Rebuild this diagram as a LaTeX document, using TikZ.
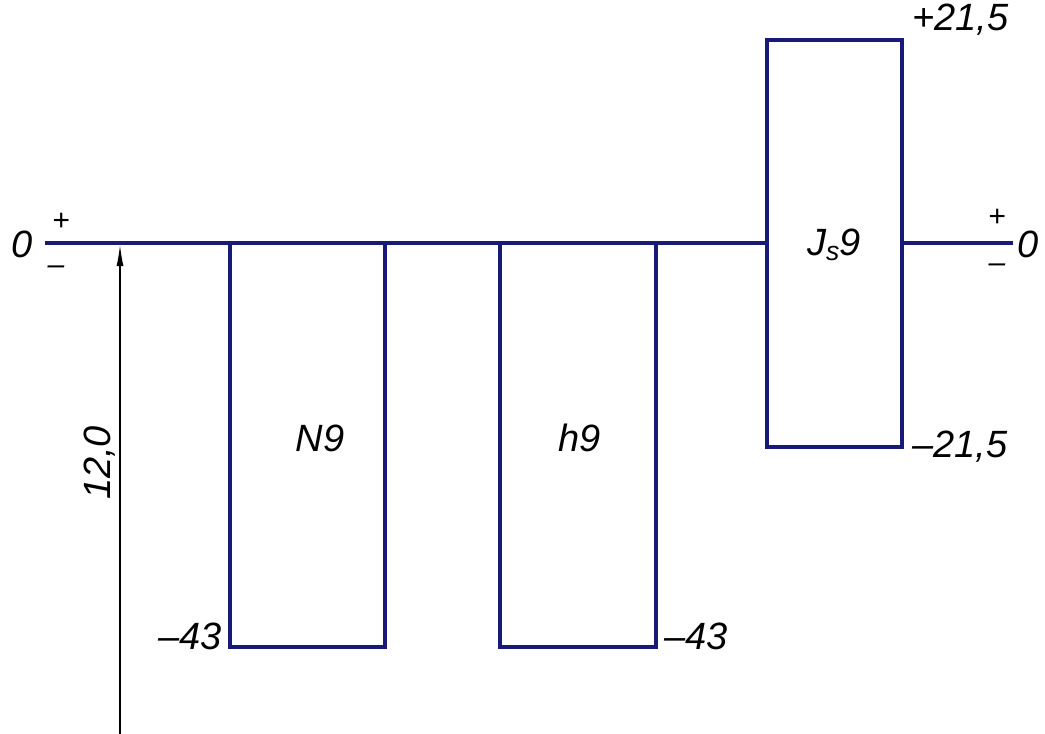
\documentclass[tikz,border=0pt]{standalone}
\usepackage{fontspec}
\setmainfont{Liberation Sans}
\usepackage{tikz}
\usetikzlibrary{arrows.meta}
\definecolor{fieldblue}{RGB}{25,25,120}
\tikzset{
  field/.style={draw=fieldblue, line width=3.2pt},
  lab/.style={font=\fontsize{38}{44}\selectfont\itshape, inner sep=0pt},
  sgn/.style={font=\fontsize{30}{34}\selectfont\itshape, inner sep=0pt}
}
\begin{document}
\begin{tikzpicture}[x=1pt, y=-1pt]
    \useasboundingbox (0,0) rectangle (1045,734);
    % zero line
    \coordinate (z0) at (45, 243);
    \coordinate (z1) at (767, 243);
    \coordinate (z2) at (902, 243);
    \coordinate (z3) at (1013, 243);
    \draw [field] (z0) -- (z1);
    \draw [field] (z2) -- (z3);
    \node [lab] (zl) at (22, 244) {0};
    \node [lab] (zr) at (1028, 244) {0};
    \node [sgn] (pl) at (61, 222) {+};
    \node [sgn] (ml) at (56, 270) {--};
    \node [sgn] (pr) at (997, 218) {+};
    \node [sgn] (mr) at (997, 268) {--};
    % fields
    \draw [field] (230, 243) rectangle (385, 647);
    \draw [field] (500, 243) rectangle (656, 647);
    \draw [field] (767, 40) rectangle (902, 447);
    \node [lab] (n9) at (320, 438) {N9};
    \node [lab] (h9) at (580, 438) {h9};
    \node [lab] (js9) at (834, 245) {J\textsubscript{s}9};
    \node [lab, anchor=east] (a) at (222, 636) {--43};
    \node [lab, anchor=west] (b) at (664, 636) {--43};
    \node [lab, anchor=west] (c) at (912, 20) {+21,5};
    \node [lab, anchor=west] (d) at (912, 447) {--21,5};
    % dimension
    \coordinate (t0) at (120, 734);
    \coordinate (t1) at (120, 244);
    \draw [-{Latex[length=22pt, width=7pt]}, line width=1.8pt] (t0) to (t1);
    \node [lab, rotate=90] (dim) at (100, 463) {12,0};
\end{tikzpicture}
\end{document}
